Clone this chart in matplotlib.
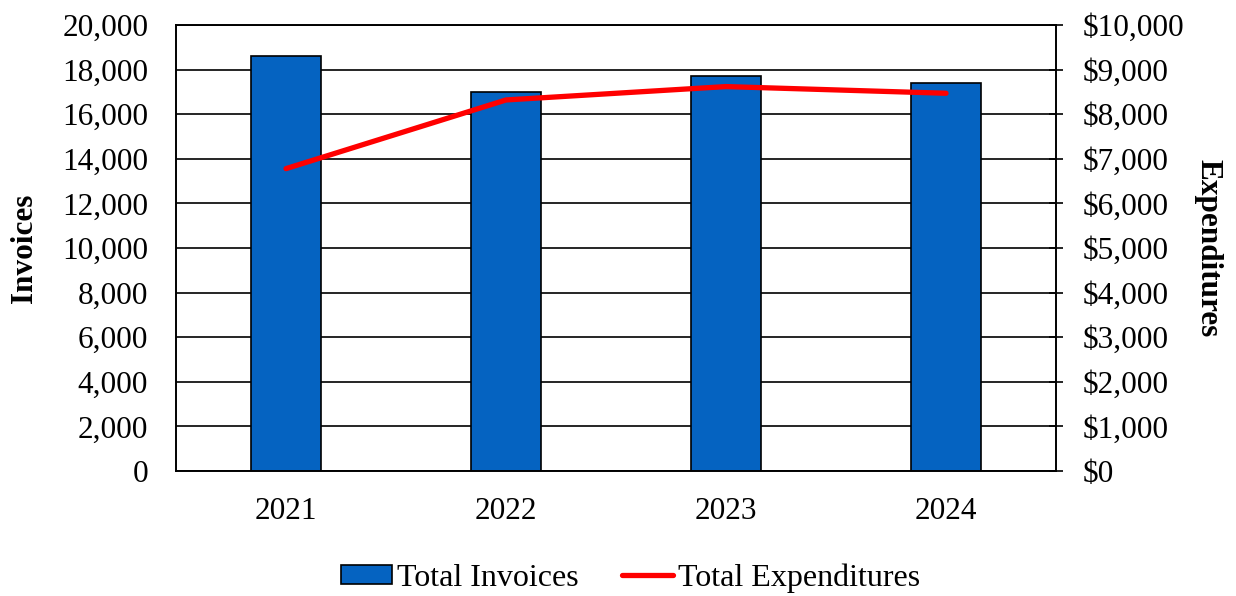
import matplotlib
matplotlib.use('Agg')
import matplotlib.pyplot as plt
from matplotlib.ticker import FuncFormatter, MultipleLocator

years = ['2021', '2022', '2023', '2024']
invoices = [18630, 16990, 17710, 17410]
expenditures = [6780, 8320, 8620, 8470]

plt.rcParams['font.family'] = ['Liberation Serif', 'DejaVu Serif']
fs = 22.5

fig = plt.figure(figsize=(12.36, 5.96), dpi=100)
ax = fig.add_axes([0.1424, 0.2097, 0.712, 0.7483])
ax2 = ax.twinx()

x = range(len(years))
bars = ax.bar(x, invoices, width=0.315, color='#0563C1', edgecolor='black',
              linewidth=1.2, label='Total Invoices', zorder=3)
ax.set_xlim(-0.5, len(years) - 0.5)
ax.set_ylim(0, 20000)
ax.yaxis.set_major_locator(MultipleLocator(2000))
ax.yaxis.set_major_formatter(FuncFormatter(lambda v, p: f'{v:,.0f}'))
ax.grid(axis='y', color='black', linewidth=1.2, zorder=0)
ax.set_axisbelow(True)
ax.set_xticks(list(x))
ax.set_xticklabels(years)
ax.tick_params(axis='x', length=0, pad=19, labelsize=fs)
ax.tick_params(axis='y', length=0, pad=20, labelsize=fs)
ax.set_ylabel('Invoices', fontsize=fs, fontweight='bold', labelpad=17)

line, = ax2.plot(x, expenditures, color='#FF0000', linewidth=3.8,
                 solid_capstyle='round', solid_joinstyle='round',
                 label='Total Expenditures')
ax2.set_ylim(0, 10000)
ax2.yaxis.set_major_locator(MultipleLocator(1000))
ax2.yaxis.set_major_formatter(FuncFormatter(lambda v, p: f'${v:,.0f}'))
ax2.tick_params(axis='y', direction='inout', length=10, width=1.2,
                pad=14, labelsize=fs)
ax2.set_ylabel('Expenditures', fontsize=fs, fontweight='bold',
               rotation=270, labelpad=28)

for a in (ax, ax2):
    for s in a.spines.values():
        s.set_linewidth(1.2)
        s.set_color('black')

# legend sits right at the bottom edge of the figure
fig.legend([bars, line], ['Total Invoices', 'Total Expenditures'],
           loc='lower center', bbox_to_anchor=(0.51, -0.043), ncol=2,
           frameon=False, fontsize=23, handlelength=1.6, handleheight=0.55,
           columnspacing=1.35, handletextpad=0.15)

fig.savefig('out.png', dpi=100)
